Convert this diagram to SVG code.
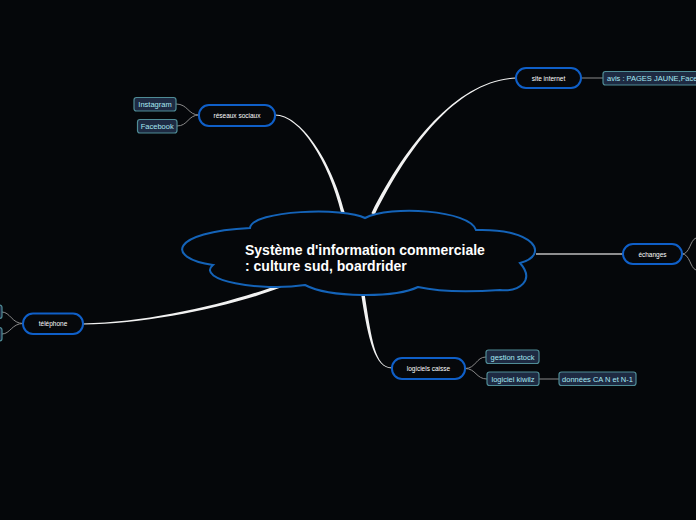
<svg xmlns="http://www.w3.org/2000/svg" width="696" height="520" viewBox="0 0 696 520">
<style>
.main{fill:#06080b;stroke:#0f5fc8;stroke-width:2}
.mt{font-family:"Liberation Sans",Arial,sans-serif;font-size:6.5px;fill:#ffffff;text-anchor:middle}
.leaf{fill:#1e2a42;stroke:#4f8c96;stroke-width:1.2}
.lt{font-family:"Liberation Sans",Arial,sans-serif;font-size:7.5px;fill:#a6e8f2;text-anchor:middle}
.thin{fill:none;stroke:#8a8a8a;stroke-width:1}
.tap{fill:#f2f2f2;stroke:none}
</style>
<rect width="696" height="520" fill="#05070a"/>
<g id="connectors">
<path class="tap" d="M275,114.5 C300,114.3 331.5,159.6 344.7,212.6 L341.3,213.4 C328.5,160.4 300,115.7 275,115.5 Z"/>
<path class="tap" d="M516,78.5 C460,80.5 411.5,140.8 374.6,214.8 L371.4,213.2 C408.5,139.2 460,79.5 516,77.5 Z"/>
<path class="tap" d="M83,323.5 C150,322.3 229.4,303.4 279.4,284.4 L280.6,287.6 C230.6,306.6 150,323.7 83,324.5 Z"/>
<path class="tap" d="M392,368.5 C375,368.4 368.3,340.3 361.3,295.3 L364.7,294.7 C371.7,339.7 375,367.6 392,367.5 Z"/>
<path d="M536,254 L623,254" fill="none" stroke="#bdbdbd" stroke-width="1.3"/>
<path class="thin" d="M199,115 C188,115 188,104 176,104"/>
<path class="thin" d="M199,115 C188,115 188,126 177,126"/>
<path class="thin" d="M581,78 L603,78"/>
<path class="thin" d="M682,254 C690,254 690,240 696,238"/>
<path class="thin" d="M682,254 C690,254 690,268 696,270"/>
<path class="thin" d="M23,323.5 C12,323.5 10,312 2,312"/>
<path class="thin" d="M23,323.5 C12,323.5 10,334 2,334"/>
<path class="thin" d="M465,368.5 C476,368.5 476,357 486,357"/>
<path class="thin" d="M465,368.5 C476,368.5 476,379 487,379"/>
<path class="thin" d="M539,379 L559,379"/>
</g>
<g id="center">
<path d="M250,228 C252,210 345,207 365,218 C390,205 470,210 476,230 C535,228 550,255 520,263 C535,280 520,292 500,290 C470,292 440,292 418,287 C395,298 330,298 305,285 C260,292 195,280 213,265 C165,258 170,232 250,228 Z" fill="#05070a" stroke="#1463b8" stroke-width="2"/>
<text font-family="Liberation Sans,Arial,sans-serif" font-size="14" font-weight="bold" fill="#ffffff"><tspan x="245" y="255">Système d'information commerciale</tspan><tspan x="245" y="271">: culture sud, boardrider</tspan></text>
</g>
<g id="reseaux"><rect class="main" x="199" y="105" width="76" height="21" rx="10"/><text class="mt" x="237" y="118">réseaux sociaux</text></g>
<g id="instagram"><rect class="leaf" x="134" y="97.5" width="42" height="13.5" rx="2.5"/><text class="lt" x="155" y="107">Instagram</text></g>
<g id="facebook"><rect class="leaf" x="137.5" y="119.5" width="39.5" height="13.5" rx="2.5"/><text class="lt" x="157.2" y="129">Facebook</text></g>
<g id="site"><rect class="main" x="516" y="68" width="65" height="20" rx="10"/><text class="mt" x="548.5" y="80.5">site internet</text></g>
<g id="avis"><rect class="leaf" x="603" y="71.5" width="120" height="13.5" rx="2.5"/><text class="lt" x="607" y="81" style="text-anchor:start">avis : PAGES JAUNE,Facebook</text></g>
<g id="echanges"><rect class="main" x="623" y="244" width="59" height="20" rx="10"/><text class="mt" x="652.5" y="256.5">échanges</text></g>
<g id="telephone"><rect class="main" x="23" y="313.5" width="60" height="20.5" rx="10"/><text class="mt" x="53" y="326">téléphone</text></g>
<g id="tel1"><rect class="leaf" x="-10" y="305" width="12" height="13.5" rx="2.5"/></g>
<g id="tel2"><rect class="leaf" x="-10" y="327.5" width="12" height="13.5" rx="2.5"/></g>
<g id="logiciels"><rect class="main" x="392" y="358" width="73" height="21" rx="10"/><text class="mt" x="428.5" y="371">logiciels caisse</text></g>
<g id="gestion"><rect class="leaf" x="486" y="350" width="53" height="13.5" rx="2.5"/><text class="lt" x="512.5" y="359.5">gestion stock</text></g>
<g id="kiwilz"><rect class="leaf" x="487" y="372" width="52" height="13.5" rx="2.5"/><text class="lt" x="513" y="381.5">logiciel kiwilz</text></g>
<g id="donnees"><rect class="leaf" x="559" y="372" width="77" height="13.5" rx="2.5"/><text class="lt" x="597.5" y="381.5">données CA N et N-1</text></g>
</svg>
